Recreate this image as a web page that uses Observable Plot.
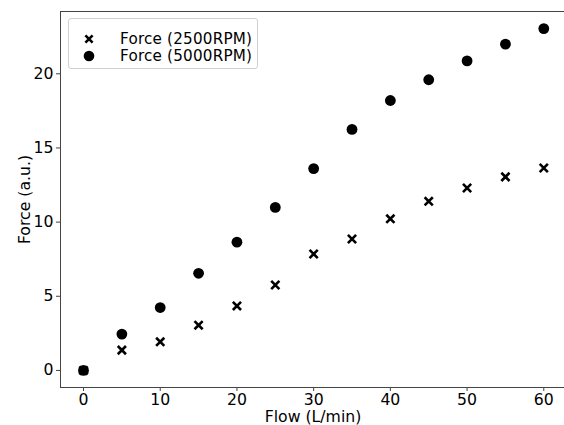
<!DOCTYPE html>
<html>
<head>
<meta charset="utf-8">
<script src="https://cdn.jsdelivr.net/npm/d3@7"></script>
<script src="https://cdn.jsdelivr.net/npm/@observablehq/plot@0.6"></script>
<style>
  html, body { margin: 0; padding: 0; background: #fff; }
  #wrap { position: relative; width: 564px; height: 425px; font-family: "DejaVu Sans", sans-serif; }
  #legend { position: absolute; left: 68px; top: 18px; width: 190px; height: 51px;
            border: 1px solid #d0d0d0; border-radius: 3px; background: rgba(255,255,255,0.8);
            box-sizing: border-box; }
  .row { position: absolute; left: 0; height: 16px; line-height: 16px; font-size: 15.2px; color: #000; letter-spacing: 0.2px; }
  .row svg { position: absolute; left: 14px; top: 2px; }
  .row span { position: absolute; left: 51px; top: 0; white-space: nowrap; line-height: 16px; }
</style>
</head>
<body>
<div id="wrap"></div>
<script>
// Data
const flow = [0, 5, 10, 15, 20, 25, 30, 35, 40, 45, 50, 55, 60];
const force2500 = [0, 1.37, 1.93, 3.05, 4.35, 5.76, 7.85, 8.86, 10.22, 11.4, 12.3, 13.05, 13.65];
const force5000 = [0, 2.45, 4.24, 6.55, 8.65, 10.99, 13.61, 16.25, 18.2, 19.6, 20.87, 22.0, 23.05];
const seriesNames = ["Force (2500RPM)", "Force (5000RPM)"];
const xTicks = [0, 10, 20, 30, 40, 50, 60];
const yTicks = [0, 5, 10, 15, 20];
const xLabel = "Flow (L/min)";
const yLabel = "Force (a.u.)";

const d2500 = flow.map((f, i) => ({flow: f, force: force2500[i]}));
const d5000 = flow.map((f, i) => ({flow: f, force: force5000[i]}));

const FS = 15.7;
const chart = Plot.plot({
  width: 564,
  height: 425,
  marginLeft: 60,
  marginRight: -1,
  marginTop: 11,
  marginBottom: 38,
  style: {fontFamily: "DejaVu Sans, sans-serif", fontSize: FS + "px", background: "white", overflow: "visible"},
  x: {domain: [-3, 62.83]},
  y: {domain: [-1.15, 24.2]},
  marks: [
    Plot.frame({stroke: "#444", strokeWidth: 1}),
    Plot.axisX({ticks: xTicks, tickSize: 4, tickPadding: 2, fontSize: FS, label: null, stroke: "#444", color: "#000", tickFormat: d => d}),
    Plot.axisY({ticks: yTicks, tickSize: 4, tickPadding: 3, fontSize: FS, label: null, stroke: "#444", color: "#000", tickFormat: d => d}),
    Plot.text([xLabel], {frameAnchor: "bottom", lineAnchor: "middle", textAnchor: "middle", dy: 29.5, fontSize: FS, fill: "#000"}),
    Plot.text([yLabel], {frameAnchor: "left", lineAnchor: "middle", textAnchor: "middle", dx: -36, rotate: -90, fontSize: FS, fill: "#000"}),
    Plot.dot(d2500, {x: "flow", y: "force", symbol: "times", r: 3.8, stroke: "#000", strokeWidth: 2.6}),
    Plot.dot(d5000, {x: "flow", y: "force", symbol: "circle", r: 5.4, fill: "#000", stroke: "none"})
  ]
});

const wrap = document.getElementById("wrap");
wrap.appendChild(chart);

// Legend (overlay inside the axes, upper left)
const legend = document.createElement("div");
legend.id = "legend";
const tops = [11.5, 29];
seriesNames.forEach((name, i) => {
  const row = document.createElement("div");
  row.className = "row";
  row.style.top = tops[i] + "px";
  row.style.width = "100%";
  const svg = i === 0
    ? `<svg width="12" height="12" viewBox="-6 -6 12 12"><path d="M-3.6,-3.6L3.6,3.6M3.6,-3.6L-3.6,3.6" stroke="#000" stroke-width="2.6"/></svg>`
    : `<svg width="12" height="12" viewBox="-6 -6 12 12"><circle r="5.3" fill="#000"/></svg>`;
  row.innerHTML = svg + `<span>${name}</span>`;
  legend.appendChild(row);
});
wrap.appendChild(legend);
</script>
</body>
</html>
